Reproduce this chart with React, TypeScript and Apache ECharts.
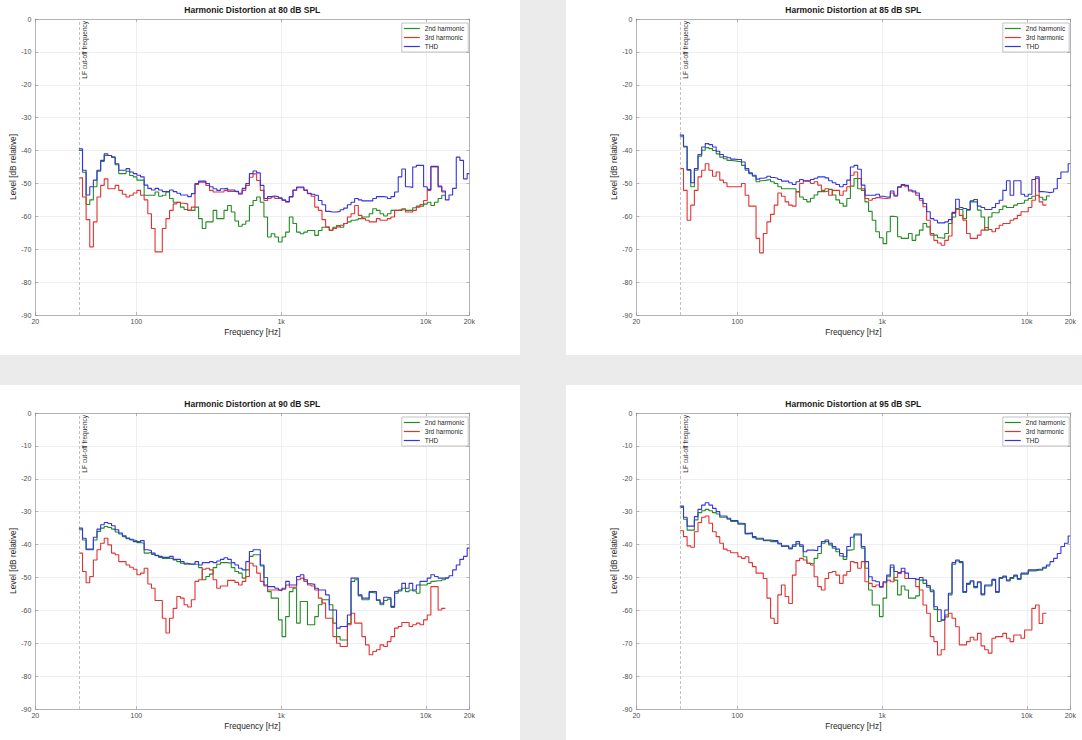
import React, { useEffect, useRef } from "react";
import * as echarts from "echarts";

// 1/12-octave band edges (Hz); the last entry closes the final band at the axis end
const BAND_EDGES_HZ = [
  40, 42.4, 44.9, 47.6, 50.4, 53.4, 56.6, 59.9, 63.5, 67.3, 71.3, 75.5,
  80, 84.8, 89.8, 95.1, 100.8, 106.8, 113.1, 119.9, 127, 134.5, 142.5, 151,
  160, 169.5, 179.6, 190.3, 201.6, 213.6, 226.3, 239.7, 254, 269.1, 285.1, 302,
  320, 339, 359.2, 380.6, 403.2, 427.1, 452.5, 479.5, 508, 538.2, 570.2, 604.1,
  640, 678.1, 718.4, 761.1, 806.4, 854.3, 905.1, 958.9, 1016, 1076, 1140, 1208,
  1280, 1356, 1437, 1522, 1613, 1709, 1810, 1918, 2032, 2153, 2281, 2416,
  2560, 2712, 2874, 3044, 3225, 3417, 3620, 3836, 4064, 4305, 4561, 4833,
  5120, 5425, 5747, 6089, 6451, 6834, 7241, 7671, 8127, 8611, 9123, 9665,
  10240, 10849, 11494, 12178, 12902, 13669, 14482, 15343, 16255, 17222, 18246, 19331,
  20000,
];

const PANEL_TITLES = [
  "Harmonic Distortion at 80 dB SPL",
  "Harmonic Distortion at 85 dB SPL",
  "Harmonic Distortion at 90 dB SPL",
  "Harmonic Distortion at 95 dB SPL",
];
const SERIES_NAMES = ["2nd harmonic", "3rd harmonic", "THD"];
const LF_CUTOFF_HZ = 40;
const LF_LABEL = "LF cut-off frequency";
const X_MIN = 20;
const X_MAX = 20000;
const X_TICKS = [20, 100, 1000, 10000, 20000];
const X_TICK_LABELS = ["20", "100", "1k", "10k", "20k"];
const Y_MIN = -90;
const Y_MAX = 0;
const Y_STEP = 10;
const X_NAME = "Frequency [Hz]";
const Y_NAME = "Level [dB relative]";

// ---- 80 dB SPL ----
const H2_80 = [
  -40, -46.6, -56.4, -55, -51, -46.3, -43.3, -41.5, -41.5, -42,
  -44.3, -47, -47, -46.3, -47.6, -48, -49, -49, -53.6, -53.6,
  -53.6, -52.6, -53.9, -53.6, -52.6, -54.6, -55.7, -55.7, -57.2, -57.9,
  -58.2, -58.2, -57.2, -60.7, -63.7, -61.7, -61.7, -58.2, -60.7, -60.7,
  -58.2, -56.7, -58.7, -61.4, -63, -62.4, -61.4, -56.7, -55.2, -54.1,
  -55.7, -60.2, -66.3, -65.3, -66.3, -67.8, -66.3, -64.8, -60.2, -62.2,
  -64.8, -65.3, -64.8, -64.3, -64.3, -65.8, -64.3, -63.3, -63.3, -64.3,
  -63.3, -62.8, -63.3, -62.2, -61.7, -61.2, -61, -60.7, -60.2, -60.2,
  -59.2, -57.7, -58.2, -59.2, -59.9, -59.2, -58.2, -58.2, -58.2, -57.7,
  -58.2, -58.2, -57.4, -56.9, -56.9, -56.3, -55.7, -56.7, -55.7, -54.6, -53.6,
];
const H3_80 = [
  -48.3, -54.1, -61, -69.3, -61.7, -54.1, -50.6, -48.6, -51.6, -51.6,
  -50.6, -52.1, -53.3, -54.1, -53.6, -52.9, -52.1, -53.6, -55, -59.2,
  -63.7, -70.8, -70.8, -63.7, -60.7, -58.2, -56.2, -55.7, -56, -56.2,
  -58.2, -57.2, -50.3, -49.6, -49.6, -50.6, -52.1, -52.6, -52.6, -52.6,
  -52.1, -52.4, -52.4, -52.6, -53.3, -52.1, -50.6, -48.1, -47.1, -49.1,
  -52.1, -55.2, -54.6, -54.1, -54.6, -54.6, -55.2, -55.7, -54.1, -52.1,
  -51.3, -51.3, -52.1, -53.1, -53.9, -57.2, -58.2, -61, -63.2, -64.2,
  -63.7, -63.2, -62.7, -62.2, -60.2, -59.2, -56.7, -59.7, -60.7, -61.2,
  -61.7, -61.7, -60.7, -61.2, -61.2, -60.7, -60.2, -58.2, -58, -58,
  -58.7, -58.7, -58.2, -57.2, -56.4, -55.2, -52.1, -45, -45, -51.1, -52.6,
];
const THD_80 = [
  -39.5, -46, -53.5, -51, -49, -46, -43, -41, -41.5, -42,
  -44, -46, -46, -45.5, -46.5, -47, -47.5, -48, -50.5, -51.5,
  -52, -51.5, -52, -52.5, -52.5, -52, -52.5, -53, -53.5, -53.5,
  -54, -53.1, -50, -49.3, -49.3, -50, -51, -51.6, -52.1, -51.6,
  -51.5, -52, -52, -52.4, -53, -51.5, -50, -47, -46.2, -46.8,
  -50.6, -54.6, -54, -53.8, -54, -54.4, -55, -55.5, -54, -52,
  -51.1, -51.1, -52, -53, -53.3, -53.6, -55.2, -56.5, -58.5, -58.7,
  -58.7, -58.5, -58, -57.5, -56.5, -55.7, -54.6, -55, -55.3, -55.3,
  -55.3, -54.6, -54, -54, -54.1, -54.6, -54, -52.6, -48, -45.6,
  -51, -51.2, -45, -44.5, -44.5, -51, -51.8, -44.8, -44.8, -50.8,
  -52.3, -55, -53.5, -51.5, -42, -43, -48.6, -47,
];

// ---- 85 dB SPL ----
const H2_85 = [
  -35.8, -38.9, -46, -51, -46, -41.7, -39.9, -39.1, -39.4, -40,
  -41, -42, -42.5, -43, -43.1, -43.3, -43.4, -44.5, -46, -47,
  -47.8, -49.5, -49.2, -49, -48.8, -49.5, -50, -51, -51.6, -51.6,
  -51.6, -51.6, -52.5, -54.1, -54.9, -55.6, -54.5, -53.5, -52.5, -52.5,
  -52.3, -51.8, -53.5, -55, -56, -56.9, -54.6, -50.8, -48.5, -51.6,
  -52.1, -55.6, -58.5, -61.2, -64.7, -66.5, -68.3, -64.7, -60, -60.2,
  -66.2, -66.7, -66.7, -65.2, -67.3, -65.7, -64.2, -62.2, -63.2, -65.2,
  -65.7, -66.5, -66.7, -65.2, -62.2, -60.2, -57.6, -57.9, -60.7, -58.1,
  -55.6, -55.6, -58.1, -60.2, -64.2, -60.2, -58.9, -58.9, -57.9, -56.9,
  -57.3, -57.3, -56.6, -56.1, -55.9, -55.1, -54.6, -53.9, -53.6, -54.2,
  -55, -53.8,
];
const H3_85 = [
  -45.5, -52.1, -61.2, -56.6, -52.1, -48, -46, -44, -46, -47.8,
  -46.5, -49, -49.8, -51, -51, -51, -51, -50, -53.6, -56.9,
  -56.9, -66.7, -71.1, -65.2, -61.7, -59.4, -56.6, -52.9, -53.9, -55.6,
  -56.6, -56.9, -52.6, -50, -49.3, -49.5, -50, -49.5, -50.5, -52.1,
  -51.6, -53.6, -52.1, -52.1, -53.6, -52.3, -51, -47.5, -46.5, -48.5,
  -51.6, -54.6, -55.1, -54.6, -54.3, -54.5, -54.6, -54.4, -52.9, -53.9,
  -51.2, -50.6, -51, -52.3, -52.6, -53.6, -55.1, -57.1, -61.2, -65.7,
  -67.3, -68.1, -68.8, -67.3, -66, -59.1, -57.9, -59.7, -61.2, -65.2,
  -66.7, -66.7, -65.7, -64.2, -63.4, -64, -64.7, -63.7, -62.7, -62.2,
  -62.2, -61.2, -60.7, -59.7, -58.6, -58.6, -57.3, -55.1, -48.5, -55.6, -56.6,
];
const THD_85 = [
  -35.3, -38.7, -45.8, -49.8, -45.5, -41.2, -38.9, -37.9, -38.2, -38.9,
  -40.2, -41.2, -41.9, -42.2, -42.6, -42.7, -42.7, -43.5, -45.5, -46.8,
  -47.5, -48.7, -48.4, -48.2, -47.8, -48.2, -48.4, -48.8, -49.3, -49.3,
  -49.8, -50.3, -49.5, -48.8, -49.2, -49.2, -48.8, -48.4, -48, -48,
  -48.3, -49.2, -49.8, -50.3, -51, -50.3, -49, -45, -44.5, -45.7,
  -50.5, -53.6, -53.6, -53.6, -53.3, -53.9, -54.1, -54.1, -52.3, -53.6,
  -51, -50.3, -50.6, -52, -52.3, -52.9, -54.6, -56.1, -58.6, -60.7,
  -61.2, -62, -62, -61.7, -61, -58.8, -54.8, -57.3, -57.6, -57.9,
  -55.3, -54.9, -56.9, -57.3, -57.9, -57.9, -57.3, -56.1, -55.1, -52.1,
  -49.2, -53.6, -49.2, -49.2, -53.3, -53.9, -53.3, -48.8, -48, -52.5,
  -52.6, -52.8, -52.6, -51.6, -48.5, -46.5, -46.5, -44,
];

// ---- 90 dB SPL ----
const H2_90 = [
  -35.5, -38.6, -41.6, -41.6, -38.6, -36, -35, -34.5, -34.8, -35.3,
  -36.2, -36.8, -37.6, -38.2, -38.6, -38.8, -39.4, -39.6, -42.6, -42.4,
  -43, -43.4, -43.9, -44.2, -44.2, -44.2, -44.7, -45.2, -45.7, -46,
  -46, -46, -46, -47, -50.7, -49.7, -49, -47, -46, -45.5,
  -45.5, -45.7, -47, -48.2, -48.7, -50.2, -47.7, -43.6, -43.1, -43.1,
  -46.5, -50, -54.3, -56.3, -56.3, -62.9, -68, -61.9, -54.3, -53.3,
  -63.9, -57.3, -57.3, -64.4, -64.4, -61.9, -58.3, -56.8, -56.8, -58.3,
  -63.9, -68, -69, -69, -64, -51.2, -50.7, -55.6, -56.8, -56.8,
  -54.6, -54.8, -57, -58.3, -57, -56.6, -59.1, -54.8, -54.1, -53.3,
  -54.3, -53.8, -54.1, -54.8, -52.3, -52.3, -51.8, -51.2, -51, -51,
  -50.7, -50.2,
];
const H3_90 = [
  -42.6, -48.2, -51.6, -49.7, -44.7, -41.6, -39.6, -38.1, -40.1, -42.6,
  -43.1, -45.2, -45.2, -46.2, -46.9, -47.5, -49.2, -48.7, -47.2, -52,
  -53.3, -57, -57, -62.4, -66.9, -62.4, -59.4, -55.8, -56.3, -58.3,
  -59, -56.8, -51.2, -50.7, -47.5, -47.2, -47.7, -50.7, -53.3, -52.6,
  -52.6, -50.9, -50.9, -51.5, -52.3, -51.2, -49.7, -45.7, -46.5, -48.7,
  -51.2, -52.6, -53.8, -53.8, -53.8, -54, -53.6, -52.3, -53, -53,
  -50.7, -50.2, -51.2, -52.3, -52.6, -53.8, -56.3, -57.8, -62.4, -62.4,
  -68, -70, -71, -71, -64.4, -60.9, -63.9, -63.9, -68, -70.5,
  -73.5, -72.5, -72, -70.5, -71, -69.5, -68, -65.4, -64.9, -63.7,
  -63.7, -64.9, -64.4, -63.9, -64.4, -62.9, -61.4, -52.8, -52.8, -59.9, -59.4,
];
const THD_90 = [
  -35, -38.1, -41.4, -41.4, -37.8, -35.3, -34, -33.3, -33.6, -34.3,
  -35.5, -36.5, -37.3, -38, -38.4, -39.1, -39.1, -38.8, -41.6, -41.8,
  -42.6, -43.3, -43.6, -43.9, -43.9, -43.6, -44.5, -44.5, -45.2, -45.7,
  -45.9, -45.9, -45.2, -46.2, -45.5, -45.5, -45.2, -45.5, -45, -44.5,
  -44, -44.5, -45.5, -46.2, -47.2, -47.7, -45.2, -42.1, -41.6, -41.6,
  -46.2, -52.3, -52.8, -52.8, -53.3, -53.8, -53.3, -51.2, -52.3, -52.3,
  -49.7, -49.2, -50.7, -51.9, -52.1, -53.3, -53.8, -53.8, -55.3, -59.9,
  -59.9, -65.4, -64.9, -64.9, -61.4, -50.2, -50.2, -55.3, -56.3, -56.3,
  -54.3, -54.3, -56.8, -57.8, -56, -56.2, -58.8, -54.3, -53.8, -51.8,
  -53.3, -51.8, -53.8, -52.3, -51.2, -51.2, -50.2, -49.2, -49.7, -50.2,
  -50.2, -50, -49.5, -47.7, -46.2, -44.5, -43.6, -41.1,
];

// ---- 95 dB SPL ----
const H2_95 = [
  -28.7, -32.3, -35.6, -35.6, -32.5, -30.3, -29.7, -29.3, -29.7, -30.3,
  -30.7, -31.7, -31.7, -32.3, -33, -33, -33.8, -33.9, -36.8, -36.6,
  -37.9, -38.4, -38.4, -38.8, -38.8, -39.1, -39.1, -39.8, -40.6, -40.6,
  -41.3, -40.6, -39.8, -40.6, -43.7, -45.7, -45.9, -44.2, -42.7, -39.6,
  -39.1, -40.1, -41.1, -42.2, -43.5, -44.5, -41.7, -41.5, -37.1, -37.1,
  -41.1, -47.2, -53.8, -58.4, -58.4, -61.9, -56.3, -49.8, -46.9, -50.8,
  -55.3, -52.6, -53.8, -56.3, -56.3, -55.6, -50.8, -51.8, -53, -54.3,
  -59.7, -63.4, -63, -61.4, -55.3, -46, -45, -45.5, -54.6, -52.1,
  -51.3, -53.1, -51.6, -55.3, -52.6, -52.6, -50.9, -54.6, -50.3, -49.9,
  -51.1, -50.3, -49.6, -50.6, -49, -49, -48, -48, -47.8, -47.8,
  -47.2, -46.5,
];
const H3_95 = [
  -35.8, -37.6, -40.4, -40.8, -36.1, -33.3, -31.7, -31.3, -33.5, -36.1,
  -37.6, -39.6, -41.4, -41.9, -42.5, -42.5, -43.7, -44.2, -43.7, -45.5,
  -46.7, -48.7, -48.7, -50.3, -56.3, -62.4, -64, -55.3, -52.3, -55.8,
  -57.9, -49.3, -44.9, -44.2, -44.7, -45.7, -46.2, -49.8, -52.8, -53.8,
  -50.3, -48.5, -48.2, -49.3, -51.8, -49.3, -48.2, -45.2, -45.5, -47.2,
  -45.2, -51.3, -51.8, -52.8, -52.3, -53, -51.6, -50.8, -51.3, -50,
  -48.8, -48.2, -50.3, -50.3, -50.3, -52.8, -53.8, -58.4, -60.9, -68,
  -69.5, -73.6, -72, -62, -60.9, -62.4, -65, -70.5, -70.5, -69.5,
  -68.2, -69, -67, -70.8, -72, -73, -68.5, -68, -68, -67,
  -68.5, -69.5, -67.5, -67.5, -68.5, -66, -66, -59.4, -58.4, -64, -60.9,
];
const THD_95 = [
  -28.3, -31.7, -34.4, -34.4, -31.5, -29.3, -28, -27.3, -28, -29,
  -30, -31.3, -31.3, -32, -32.7, -32.7, -33.5, -33.6, -36.6, -36.4,
  -37.6, -38.1, -38.1, -38.6, -38.6, -38.8, -38.8, -39.6, -40.4, -40.4,
  -41.1, -40.1, -39.1, -40.1, -42.2, -41.7, -41.7, -41.9, -40.6, -39.1,
  -38.6, -39.6, -40.6, -41.4, -42.7, -43.7, -40.6, -37.8, -36.8, -36.8,
  -40.6, -45.2, -49.8, -51, -51.3, -52.8, -51.3, -49.3, -46.2, -48.2,
  -48.5, -47.2, -48.7, -50.3, -50.3, -50.6, -50, -50.8, -52.5, -53.8,
  -58.9, -59.8, -62.9, -59.9, -54.8, -45.5, -44.7, -45.2, -54.3, -51.8,
  -51, -52.8, -51.3, -55, -52.3, -52.3, -50.6, -54.3, -50, -49.6,
  -50.8, -50, -49.3, -50.3, -48.7, -48.7, -47.7, -47.7, -47.5, -47.5,
  -46.9, -46.2, -45.2, -44.2, -42.7, -40.6, -39.6, -37.4,
];

const COLORS = ["#238c23", "#e33232", "#3434e0"];
const FONT = '"Liberation Sans", Arial, Helvetica, sans-serif';
const W = 1082;
const H = 740;

const PANELS = [
  { title: PANEL_TITLES[0], series: [H2_80, H3_80, THD_80], bg: [0, 0, 520, 355], plot: [35.3, 19, 434, 296] },
  { title: PANEL_TITLES[1], series: [H2_85, H3_85, THD_85], bg: [566, 0, 516, 355], plot: [636.3, 19, 434, 296] },
  { title: PANEL_TITLES[2], series: [H2_90, H3_90, THD_90], bg: [0, 385, 520, 355], plot: [35.3, 413, 434, 296] },
  { title: PANEL_TITLES[3], series: [H2_95, H3_95, THD_95], bg: [566, 385, 516, 355], plot: [636.3, 413, 434, 296] },
];

function stepData(values: number[]) {
  const pts: number[][] = values.map((v, i) => [BAND_EDGES_HZ[i], v]);
  pts.push([BAND_EDGES_HZ[values.length], values[values.length - 1]]);
  return pts;
}

function xLabel(v: number) {
  for (let i = 0; i < X_TICKS.length; i++) {
    if (Math.abs(v - X_TICKS[i]) / X_TICKS[i] < 0.01) return X_TICK_LABELS[i];
  }
  return "";
}

const AXIS_COLOR = "#8c8c8c";
const GRID_COLOR = "#e4e4e4";

function buildOption() {
  const grid: any[] = [];
  const xAxis: any[] = [];
  const yAxis: any[] = [];
  const series: any[] = [];
  const title: any[] = [];
  const legend: any[] = [];

  PANELS.forEach((p, k) => {
    const [gl, gt, gw, gh] = p.plot;
    grid.push({ left: gl, top: gt, width: gw, height: gh, containLabel: false });
    title.push({
      text: p.title,
      left: gl + gw / 2,
      top: gt - 13.5,
      textAlign: "center",
      padding: 0,
      textStyle: { fontSize: 8.5, fontWeight: "bold", color: "#1a1a1a", fontFamily: FONT },
    });
    legend.push({
      data: SERIES_NAMES,
      orient: "vertical",
      left: gl + 366.5,
      top: gt + 4,
      icon: "rect",
      itemWidth: 16,
      itemHeight: 1.2,
      itemGap: 2,
      padding: [2, 4, 2, 2],
      backgroundColor: "#ffffff",
      borderColor: "#9a9a9a",
      borderWidth: 0.6,
      borderRadius: 0,
      selectedMode: false,
      textStyle: { fontSize: 6.5, color: "#262626", fontFamily: FONT, lineHeight: 7 },
    });
    const axisLine = { show: true, onZero: false, lineStyle: { color: AXIS_COLOR, width: 0.6 } };
    const axisTick = { show: true, inside: true, length: 3, lineStyle: { color: AXIS_COLOR, width: 0.6 } };
    xAxis.push({
      gridIndex: k,
      type: "log",
      logBase: 10,
      min: X_MIN,
      max: X_MAX,
      position: "bottom",
      name: X_NAME,
      nameLocation: "middle",
      nameGap: 13,
      nameTextStyle: { fontSize: 8.3, color: "#262626", fontFamily: FONT },
      axisLine,
      axisTick,
      axisLabel: { fontSize: 7, color: "#4d4d4d", margin: 3, fontFamily: FONT, formatter: (v: number) => xLabel(v) },
      splitLine: { show: true, lineStyle: { color: GRID_COLOR, width: 0.6 } },
    });
    xAxis.push({
      gridIndex: k,
      type: "log",
      logBase: 10,
      min: X_MIN,
      max: X_MAX,
      position: "top",
      axisLine,
      axisTick,
      axisLabel: { show: false },
      splitLine: { show: false },
    });
    yAxis.push({
      gridIndex: k,
      type: "value",
      min: Y_MIN,
      max: Y_MAX,
      interval: Y_STEP,
      position: "left",
      name: Y_NAME,
      nameLocation: "middle",
      nameGap: 15,
      nameTextStyle: { fontSize: 8.3, color: "#262626", fontFamily: FONT },
      axisLine,
      axisTick,
      axisLabel: { fontSize: 7, color: "#4d4d4d", margin: 4, fontFamily: FONT },
      splitLine: { show: true, lineStyle: { color: GRID_COLOR, width: 0.6 } },
    });
    yAxis.push({
      gridIndex: k,
      type: "value",
      min: Y_MIN,
      max: Y_MAX,
      interval: Y_STEP,
      position: "right",
      axisLine,
      axisTick,
      axisLabel: { show: false },
      splitLine: { show: false },
    });

    p.series.forEach((vals, j) => {
      const s: any = {
        name: SERIES_NAMES[j],
        type: "line",
        xAxisIndex: 2 * k,
        yAxisIndex: 2 * k,
        step: "end",
        symbol: "none",
        showSymbol: false,
        data: stepData(vals),
        lineStyle: { width: 1.1, color: COLORS[j] },
        itemStyle: { color: COLORS[j] },
        z: 3 + j,
      };
      if (j === 0) {
        s.markLine = {
          silent: true,
          symbol: ["none", "none"],
          lineStyle: { type: [3, 2], color: "#b4b4b4", width: 0.8 },
          label: {
            show: true,
            position: "insideEndBottom",
            formatter: LF_LABEL,
            fontSize: 6.5,
            color: "#333333",
            fontFamily: FONT,
            distance: 2,
          },
          emphasis: { disabled: true },
          data: [{ xAxis: LF_CUTOFF_HZ }],
        };
      }
      series.push(s);
    });
  });

  return {
    animation: false,
    backgroundColor: "transparent",
    title,
    legend,
    grid,
    xAxis,
    yAxis,
    series,
  };
}

export default function App() {
  const ref = useRef<HTMLDivElement>(null);
  useEffect(() => {
    if (!ref.current) return;
    const chart = echarts.init(ref.current, null, { renderer: "svg", width: W, height: H });
    chart.setOption(buildOption() as any);
    return () => chart.dispose();
  }, []);
  return (
    <div style={{ position: "absolute", left: 0, top: 0, width: W, height: H, background: "#ebebeb", overflow: "hidden" }}>
      {PANELS.map((p, i) => (
        <div
          key={i}
          style={{ position: "absolute", left: p.bg[0], top: p.bg[1], width: p.bg[2], height: p.bg[3], background: "#ffffff" }}
        />
      ))}
      <div ref={ref} style={{ position: "absolute", left: 0, top: 0, width: W, height: H }} />
    </div>
  );
}
